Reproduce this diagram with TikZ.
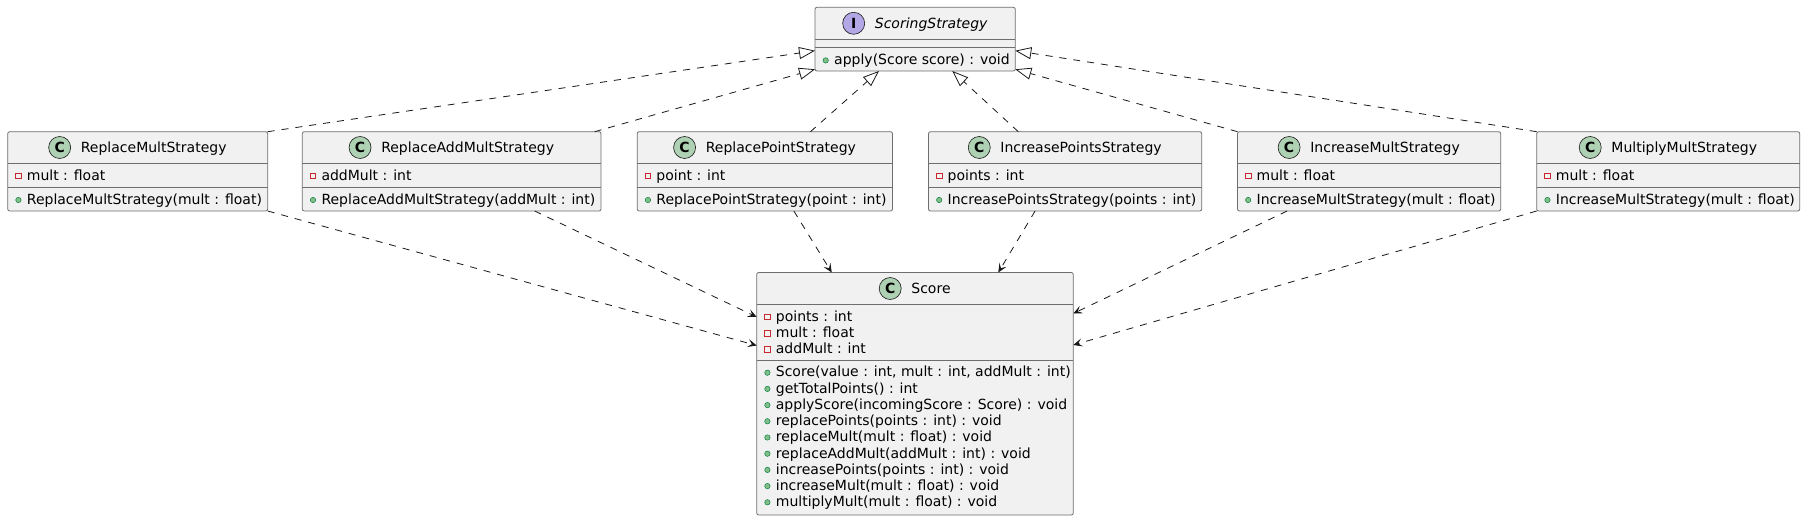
\documentclass[tikz,border=0pt]{standalone}
\usepackage{fontspec}
\setmainfont{DejaVu Sans}
\usetikzlibrary{arrows.meta}
\definecolor{boxfill}{HTML}{F1F1F1}
\definecolor{boxline}{HTML}{6E6E6E}
\definecolor{iconline}{HTML}{181818}
\definecolor{cicon}{HTML}{ADD1B2}
\definecolor{iicon}{HTML}{B4A7E5}
\definecolor{privc}{HTML}{C82930}
\definecolor{pubfill}{HTML}{84BE84}
\definecolor{publine}{HTML}{038048}
\definecolor{edgec}{HTML}{181818}
\tikzset{
  umlbox/.style={draw=boxline, line width=0.8pt, fill=boxfill, rounded corners=2pt, inner sep=0pt, outer sep=0pt, anchor=north west},
  sepline/.style={draw=boxline, line width=0.8pt},
  icon/.style={circle, draw=iconline, line width=0.6pt, minimum size=22pt, inner sep=0pt, font=\fontsize{14}{14}\selectfont\bfseries},
  nametext/.style={inner sep=0pt, anchor=base, font=\fontsize{14}{16}\selectfont},
  membertext/.style={inner sep=0pt, anchor=base west, font=\fontsize{14}{16}\selectfont},
  dep/.style={draw=edgec, line width=0.8pt, dash pattern=on 7pt off 7pt, -{Stealth[length=9pt,width=8pt,inset=4pt]}},
  real/.style={draw=edgec, line width=0.8pt, dash pattern=on 7pt off 7pt, -{Triangle[open,length=16pt,width=12pt]}},
}
\newcommand\umlpriv[4]{%
  \draw[draw=privc, line width=0.7pt] (#2+8,#3-7) rectangle (#2+13.5,#3-1.5);
  \node[membertext] (#1) at (#2+19,#3) {#4};}
\newcommand\umlpub[4]{%
  \filldraw[fill=pubfill, draw=publine, line width=0.5pt] (#2+10.7,#3-4.3) circle[radius=2.7pt];
  \node[membertext] (#1) at (#2+19,#3) {#4};}
\newcommand\umlhead[6]{%
  \node[nametext] (#1) at (#2+16,#3) {#6};
  \path (#1.base west) ++(-21,-5.1) node[icon, fill=#5] (#1-ic) {#4};}
\begin{document}
\begin{tikzpicture}[x=1pt,y=-1pt]
\useasboundingbox[fill=white] (0,0) rectangle (1805,521);

% ScoringStrategy
\node[umlbox, minimum width=200.3pt, minimum height=63.7pt] (ss) at (815,7.3) {};
\draw[sepline] (815,39.3) -- (1015.3,39.3);
\draw[sepline] (815,47.7) -- (1015.3,47.7);
\umlhead{ssname}{915.15}{28.4}{I}{iicon}{\itshape ScoringStrategy}
\umlpub{ssm1}{815}{64.7}{apply(Score score) : void}

% ReplaceMultStrategy
\node[umlbox, minimum width=260pt, minimum height=79.3pt] (rms) at (7.7,131.7) {};
\draw[sepline] (7.7,163.3) -- (267.7,163.3);
\draw[sepline] (7.7,187.3) -- (267.7,187.3);
\umlhead{rmsname}{137.7}{152.6}{C}{cicon}{ReplaceMultStrategy}
\umlpriv{rmsa1}{7.7}{180.3}{mult : float}
\umlpub{rmsm1}{7.7}{204.3}{ReplaceMultStrategy(mult : float)}

% ReplaceAddMultStrategy
\node[umlbox, minimum width=298.7pt, minimum height=79.3pt] (rams) at (302.3,131.7) {};
\draw[sepline] (302.3,163.3) -- (601,163.3);
\draw[sepline] (302.3,187.3) -- (601,187.3);
\umlhead{ramsname}{451.65}{152.6}{C}{cicon}{ReplaceAddMultStrategy}
\umlpriv{ramsa1}{302.3}{180.3}{addMult : int}
\umlpub{ramsm1}{302.3}{204.3}{ReplaceAddMultStrategy(addMult : int)}

% ReplacePointStrategy
\node[umlbox, minimum width=255.3pt, minimum height=79.3pt] (rps) at (637.2,131.7) {};
\draw[sepline] (637.2,163.3) -- (892.5,163.3);
\draw[sepline] (637.2,187.3) -- (892.5,187.3);
\umlhead{rpsname}{764.85}{152.6}{C}{cicon}{ReplacePointStrategy}
\umlpriv{rpsa1}{637.2}{180.3}{point : int}
\umlpub{rpsm1}{637.2}{204.3}{ReplacePointStrategy(point : int)}

% IncreasePointsStrategy
\node[umlbox, minimum width=273.2pt, minimum height=79.3pt] (ips) at (928.5,131.7) {};
\draw[sepline] (928.5,163.3) -- (1201.7,163.3);
\draw[sepline] (928.5,187.3) -- (1201.7,187.3);
\umlhead{ipsname}{1065.1}{152.6}{C}{cicon}{IncreasePointsStrategy}
\umlpriv{ipsa1}{928.5}{180.3}{points : int}
\umlpub{ipsm1}{928.5}{204.3}{IncreasePointsStrategy(points : int)}

% IncreaseMultStrategy
\node[umlbox, minimum width=263.2pt, minimum height=79.3pt] (ims) at (1237.5,131.7) {};
\draw[sepline] (1237.5,163.3) -- (1500.7,163.3);
\draw[sepline] (1237.5,187.3) -- (1500.7,187.3);
\umlhead{imsname}{1369.1}{152.6}{C}{cicon}{IncreaseMultStrategy}
\umlpriv{imsa1}{1237.5}{180.3}{mult : float}
\umlpub{imsm1}{1237.5}{204.3}{IncreaseMultStrategy(mult : float)}

% MultiplyMultStrategy
\node[umlbox, minimum width=263pt, minimum height=79.3pt] (mms) at (1536.7,131.7) {};
\draw[sepline] (1536.7,163.3) -- (1799.7,163.3);
\draw[sepline] (1536.7,187.3) -- (1799.7,187.3);
\umlhead{mmsname}{1668.2}{152.6}{C}{cicon}{MultiplyMultStrategy}
\umlpriv{mmsa1}{1536.7}{180.3}{mult : float}
\umlpub{mmsm1}{1536.7}{204.3}{IncreaseMultStrategy(mult : float)}

% Score
\node[umlbox, minimum width=316.6pt, minimum height=242.5pt] (score) at (756.7,272.5) {};
\draw[sepline] (756.7,304.2) -- (1073.3,304.2);
\draw[sepline] (756.7,360) -- (1073.3,360);
\umlhead{scorename}{915}{293.6}{C}{cicon}{Score}
\umlpriv{sa1}{756.7}{321.2}{points : int}
\umlpriv{sa2}{756.7}{337.4}{mult : float}
\umlpriv{sa3}{756.7}{353.6}{addMult : int}
\umlpub{sm1}{756.7}{377}{Score(value : int, mult : int, addMult : int)}
\umlpub{sm2}{756.7}{393.2}{getTotalPoints() : int}
\umlpub{sm3}{756.7}{409.4}{applyScore(incomingScore : Score) : void}
\umlpub{sm4}{756.7}{425.6}{replacePoints(points : int) : void}
\umlpub{sm5}{756.7}{441.8}{replaceMult(mult : float) : void}
\umlpub{sm6}{756.7}{458}{replaceAddMult(addMult : int) : void}
\umlpub{sm7}{756.7}{474.2}{increasePoints(points : int) : void}
\umlpub{sm8}{756.7}{490.4}{increaseMult(mult : float) : void}
\umlpub{sm9}{756.7}{506.6}{multiplyMult(mult : float) : void}

% realization connectors
\draw[real] (rms.north east) -- ([yshift=-43.4pt]ss.north west);
\draw[real] ([xshift=143pt]rams.north) -- ([yshift=-62pt]ss.north west);
\draw[real] ([xshift=45.6pt]rps.north) -- ([xshift=64pt]ss.south west);
\draw[real] ([xshift=-46.8pt]ips.north) -- ([xshift=-63pt]ss.south east);
\draw[real] (ims.north west) -- ([yshift=-62pt]ss.north east);
\draw[real] (mms.north west) -- ([yshift=-43.4pt]ss.north east);

% dependency connectors
\draw[dep] (rms.south east) -- ([yshift=-73pt]score.north west);
\draw[dep] ([xshift=83pt]rams.south) -- ([yshift=-44.5pt]score.north west);
\draw[dep] ([xshift=29pt]rps.south) -- ([xshift=75pt]score.north west);
\draw[dep] ([xshift=-30pt]ips.south) -- ([xshift=-75pt]score.north east);
\draw[dep] ([xshift=-82pt]ims.south) -- ([yshift=-41pt]score.north east);
\draw[dep] (mms.south west) -- ([yshift=-72.5pt]score.north east);
\end{tikzpicture}
\end{document}
